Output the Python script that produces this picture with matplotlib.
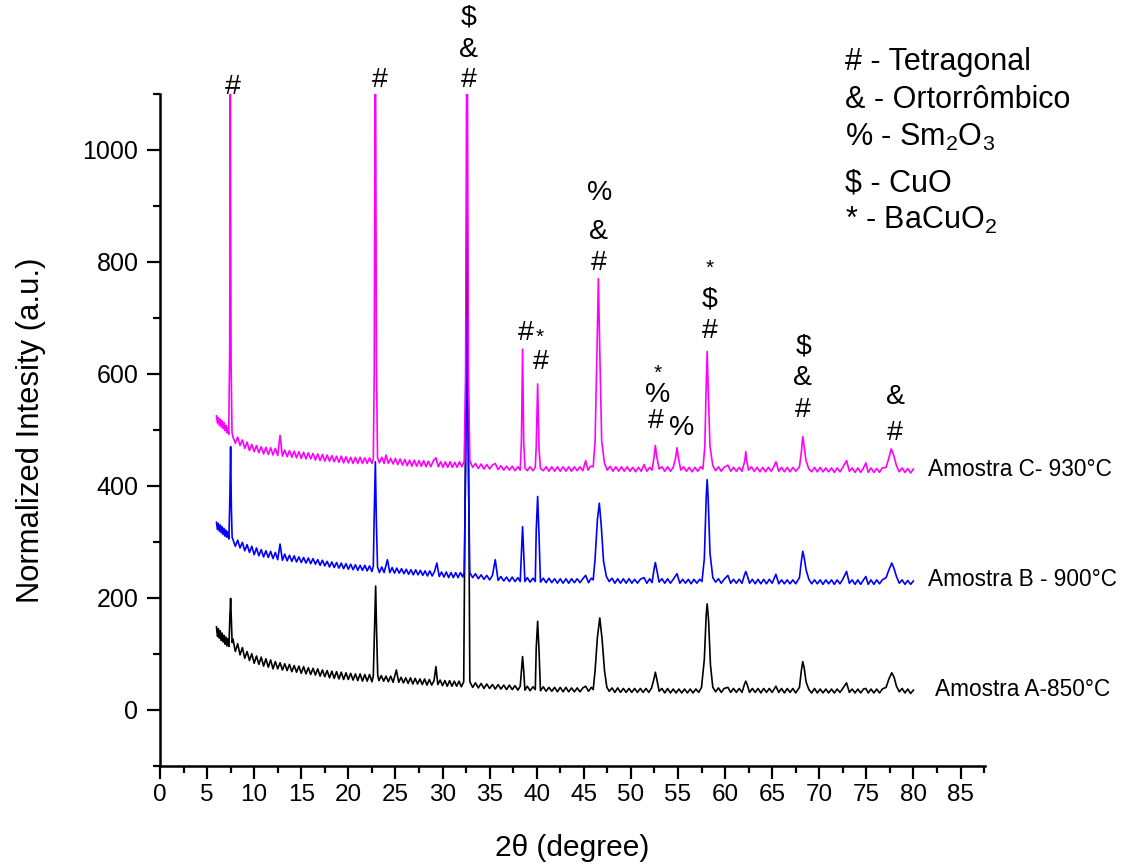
import matplotlib
matplotlib.use("Agg")
import matplotlib.pyplot as plt
from matplotlib.ticker import MultipleLocator

plt.rcParams['font.family'] = ['Liberation Sans', 'DejaVu Sans']
plt.rcParams['mathtext.fontset'] = 'custom'
plt.rcParams['mathtext.rm'] = 'Liberation Sans'
plt.rcParams['mathtext.it'] = 'Liberation Sans'

# ---------------- data ----------------
amostra_c = [(6.0,525),(6.1,512),(6.2,522),(6.3,508),(6.4,519),(6.5,505),(6.6,516),(6.7,502),(6.8,513),(6.9,499),
    (7.0,508),(7.1,495),(7.2,504),(7.3,492),
    (7.4,640),(7.47,1100),(7.55,620),(7.65,495),
    (7.75,487),(8.0,476),(8.25,487),(8.5,472),(8.75,482),(9.0,467),(9.25,478),(9.5,463),(9.75,474),(10.0,461),
    (10.25,472),(10.5,459),(10.75,470),(11.0,457),(11.25,469),(11.5,456),(11.75,468),(12.0,455),(12.25,467),
    (12.5,454),(12.75,490),(13.0,453),(13.25,464),(13.5,452),(13.75,463),(14.0,451),(14.25,462),(14.5,450),
    (14.75,461),(15.0,449),(15.25,460),(15.5,448),(15.75,459),(16.0,448),(16.25,458),(16.5,446),(16.75,457),
    (17.0,445),(17.25,456),(17.5,444),(17.75,455),(18.0,444),(18.25,454),(18.5,443),(18.75,453),(19.0,442),
    (19.25,453),(19.5,441),(19.75,452),(20.0,441),(20.25,451),(20.5,440),(20.75,451),(21.0,440),(21.25,451),
    (21.5,440),(21.75,450),(22.0,440),(22.25,450),(22.5,440),
    (22.65,448),(22.75,600),(22.83,1100),(22.9,1100),(22.98,620),(23.1,450),
    (23.3,441),(23.55,451),(23.8,440),(24.0,455),(24.25,440),(24.5,449),(24.75,439),(25.0,449),(25.25,438),
    (25.5,448),(25.75,437),(26.0,447),(26.25,436),(26.5,446),(26.75,435),(27.0,446),(27.25,435),(27.5,445),
    (27.75,435),(28.0,445),(28.25,434),(28.5,444),(28.75,434),(29.0,444),(29.3,450),(29.55,434),(29.8,443),
    (30.05,433),(30.3,443),(30.55,433),(30.8,443),(31.05,433),(31.3,442),(31.55,433),(31.8,443),(32.05,434),
    (32.3,444),
    (32.45,600),(32.55,1100),(32.65,1100),(32.75,600),(32.9,445),
    (33.2,433),(33.5,440),(33.8,431),(34.1,439),(34.4,430),(34.7,438),(35.0,430),(35.3,437),(35.6,440),(35.9,429),
    (36.2,436),(36.5,428),(36.8,435),(37.1,428),(37.4,435),(37.7,427),(38.0,434),(38.25,428),
    (38.38,480),(38.5,644),(38.62,480),(38.75,432),(39.0,427),(39.3,434),(39.6,427),(39.85,433),
    (39.95,470),(40.1,582),(40.25,465),(40.4,431),
    (40.7,427),(41.0,434),(41.3,426),(41.6,434),(41.9,426),(42.2,434),(42.5,426),(42.8,434),(43.1,426),(43.4,434),
    (43.7,426),(44.0,434),(44.3,427),(44.6,434),(44.9,427),(45.2,445),(45.45,428),(45.7,435),(46.0,434),
    (46.2,480),(46.4,640),(46.55,770),(46.7,640),(46.9,480),(47.2,440),(47.5,428),
    (47.8,435),(48.1,426),(48.4,434),(48.7,426),(49.0,434),(49.3,426),(49.6,434),(49.9,426),(50.2,433),(50.5,425),
    (50.8,433),(51.1,426),(51.4,438),(51.7,426),(52.0,433),(52.25,428),
    (52.45,450),(52.6,472),(52.75,452),(53.0,430),(53.3,434),(53.6,426),(53.9,434),(54.2,426),(54.5,433),
    (54.75,450),(54.9,468),(55.05,450),(55.3,428),(55.6,434),(55.9,426),(56.2,433),(56.5,425),(56.8,433),
    (57.1,426),(57.4,434),(57.65,430),
    (57.85,470),(58.0,580),(58.1,640),(58.2,580),(58.4,470),(58.7,436),(59.0,427),(59.3,434),(59.6,426),
    (59.9,433),(60.3,437),(60.6,426),(60.9,433),(61.2,426),(61.5,433),(61.8,426),
    (62.1,445),(62.2,461),(62.3,445),(62.5,428),(62.8,434),(63.1,426),(63.4,433),(63.7,425),(64.0,433),(64.3,425),
    (64.6,433),(64.9,426),(65.15,433),(65.4,443),(65.7,426),(66.0,433),(66.3,425),(66.6,433),(66.9,425),
    (67.2,433),(67.5,426),(67.9,434),
    (68.1,460),(68.25,488),(68.4,470),(68.6,445),(68.9,430),(69.2,425),(69.5,433),(69.8,425),(70.1,433),
    (70.4,425),(70.7,432),(71.0,425),(71.3,432),(71.6,424),(71.9,432),(72.2,425),(72.5,433),(72.9,445),(73.2,426),
    (73.5,432),(73.8,424),(74.1,432),(74.4,424),(74.7,432),(74.95,441),(75.2,424),(75.5,432),(75.8,424),
    (76.1,431),(76.4,424),(76.7,432),(77.1,433),
    (77.4,450),(77.65,466),(77.9,455),(78.2,436),(78.5,425),(78.8,432),(79.1,424),(79.4,431),(79.7,423),(80.0,430)]

amostra_b = [(6.0,335),(6.1,322),(6.2,333),(6.3,319),(6.4,330),(6.5,316),(6.6,327),(6.7,313),(6.8,324),(6.9,310),
    (7.0,321),(7.1,308),(7.2,318),(7.32,305),
    (7.42,380),(7.5,470),(7.58,360),(7.66,308),
    (7.75,304),(8.0,292),(8.25,303),(8.5,289),(8.75,299),(9.0,284),(9.25,295),(9.5,281),(9.75,292),(10.0,277),
    (10.25,289),(10.5,275),(10.75,286),(11.0,273),(11.25,284),(11.5,272),(11.75,283),(12.0,270),(12.25,281),
    (12.5,268),(12.75,296),(13.0,267),(13.25,278),(13.5,266),(13.75,276),(14.0,265),(14.25,275),(14.5,264),
    (14.75,273),(15.0,263),(15.25,272),(15.5,262),(15.75,271),(16.0,261),(16.25,270),(16.5,260),(16.75,268),
    (17.0,258),(17.25,267),(17.5,257),(17.75,265),(18.0,255),(18.25,264),(18.5,254),(18.75,263),(19.0,253),
    (19.25,262),(19.5,252),(19.75,261),(20.0,251),(20.25,260),(20.5,250),(20.75,259),(21.0,249),(21.25,258),
    (21.5,249),(21.75,258),(22.0,248),(22.25,257),(22.5,247),
    (22.65,256),(22.75,350),(22.87,443),(22.97,340),(23.1,255),
    (23.3,245),(23.55,255),(23.8,245),(24.15,268),(24.4,245),(24.65,254),(24.9,244),(25.15,253),(25.4,244),
    (25.65,252),(25.9,243),(26.15,251),(26.4,242),(26.65,250),(26.9,241),(27.15,250),(27.4,241),(27.65,249),
    (27.9,240),(28.15,248),(28.4,239),(28.65,248),(28.9,239),(29.15,247),(29.4,262),(29.65,238),(29.9,246),
    (30.15,237),(30.4,246),(30.65,236),(30.9,245),(31.15,236),(31.4,245),(31.65,236),(31.9,245),(32.15,237),
    (32.3,246),
    (32.45,420),(32.6,700),(32.75,420),(32.9,245),
    (33.2,236),(33.5,243),(33.8,234),(34.1,241),(34.4,233),(34.7,240),(35.0,232),(35.3,240),(35.6,268),(35.9,231),
    (36.2,238),(36.5,230),(36.8,237),(37.1,229),(37.4,237),(37.7,229),(38.0,236),(38.25,229),
    (38.38,280),(38.5,327),(38.62,280),(38.75,229),(39.0,236),(39.3,228),(39.6,235),(39.85,229),
    (39.95,320),(40.1,381),(40.25,310),(40.4,228),
    (40.7,235),(41.0,227),(41.3,235),(41.6,227),(41.9,234),(42.2,226),(42.5,234),(42.8,226),(43.1,234),(43.4,226),
    (43.7,234),(44.0,227),(44.3,234),(44.6,227),(44.9,234),(45.2,240),(45.5,227),(45.8,235),(46.0,232),
    (46.2,270),(46.45,340),(46.65,369),(46.85,330),(47.1,265),(47.4,238),(47.7,229),
    (48.0,235),(48.3,226),(48.6,234),(48.9,226),(49.2,234),(49.5,226),(49.8,234),(50.1,226),(50.4,233),(50.7,226),
    (51.0,233),(51.4,236),(51.7,226),(52.0,234),(52.25,227),
    (52.45,250),(52.6,263),(52.75,250),(53.0,228),(53.3,234),(53.6,226),(53.9,234),(54.2,226),(54.5,233),
    (54.9,243),(55.2,226),(55.5,233),(55.8,226),(56.1,233),(56.4,225),(56.7,233),(57.0,226),(57.3,233),(57.55,229),
    (57.8,270),(58.0,380),(58.1,411),(58.2,380),(58.4,280),(58.7,236),(59.0,228),(59.3,234),(59.6,226),
    (59.9,233),(60.3,240),(60.6,226),(60.9,233),(61.2,226),(61.5,233),(61.8,226),
    (62.05,240),(62.2,247),(62.35,240),(62.6,226),(62.9,233),(63.2,225),(63.5,233),(63.8,225),(64.1,233),
    (64.4,225),(64.7,233),(65.0,226),(65.4,242),(65.7,225),(66.0,232),(66.3,225),(66.6,232),(66.9,225),
    (67.2,232),(67.5,225),(67.9,236),
    (68.1,265),(68.25,283),(68.4,272),(68.6,250),(68.9,233),(69.2,225),(69.5,232),(69.8,225),(70.1,232),
    (70.4,224),(70.7,232),(71.0,225),(71.3,232),(71.6,224),(71.9,232),(72.2,225),(72.5,233),(72.9,247),(73.2,226),
    (73.5,232),(73.8,224),(74.1,232),(74.4,224),(74.7,232),(74.95,238),(75.2,224),(75.5,232),(75.8,224),
    (76.1,232),(76.4,225),(76.7,232),(77.1,236),
    (77.4,250),(77.7,262),(77.95,252),(78.2,238),(78.5,226),(78.8,232),(79.1,224),(79.4,231),(79.7,224),(80.0,230)]

amostra_a = [(6.0,148),(6.1,131),(6.2,145),(6.3,128),(6.4,141),(6.5,124),(6.6,137),(6.7,121),(6.8,133),(6.9,117),
    (7.0,130),(7.1,114),(7.2,127),(7.32,113),
    (7.42,165),(7.5,199),(7.58,160),(7.66,120),
    (7.75,126),(8.0,104),(8.25,118),(8.5,98),(8.75,111),(9.0,92),(9.25,104),(9.5,88),(9.75,100),(10.0,83),
    (10.25,96),(10.5,81),(10.75,94),(11.0,78),(11.25,91),(11.5,76),(11.75,89),(12.0,73),(12.25,86),
    (12.5,73),(12.75,84),(13.0,71),(13.25,82),(13.5,70),(13.75,81),(14.0,68),(14.25,79),(14.5,67),(14.75,78),
    (15.0,65),(15.25,77),(15.5,64),(15.75,75),(16.0,63),(16.25,74),(16.5,62),(16.75,73),(17.0,60),(17.25,71),
    (17.5,59),(17.75,70),(18.0,57),(18.25,69),(18.5,56),(18.75,68),(19.0,55),(19.25,67),(19.5,54),(19.75,66),
    (20.0,54),(20.25,65),(20.5,53),(20.75,64),(21.0,52),(21.25,64),(21.5,51),(21.75,63),(22.0,51),(22.25,63),
    (22.5,50),
    (22.65,60),(22.77,140),(22.9,221),(23.0,140),(23.12,62),
    (23.25,52),(23.5,61),(23.75,51),(24.0,60),(24.25,50),(24.5,60),(24.75,49),(25.1,71),(25.35,49),(25.6,58),
    (25.85,48),(26.1,57),(26.35,47),(26.6,57),(26.85,46),(27.1,56),(27.35,46),(27.6,55),(27.85,45),(28.1,55),
    (28.35,44),(28.6,54),(28.85,44),(29.1,52),(29.3,77),(29.5,45),(29.75,53),(30.0,43),(30.25,52),(30.5,42),
    (30.75,52),(31.0,42),(31.25,51),(31.5,42),(31.75,51),(32.0,41),(32.25,50),
    (32.45,500),(32.6,950),(32.75,500),(32.9,50),
    (33.2,40),(33.5,48),(33.8,39),(34.1,47),(34.4,38),(34.7,46),(35.0,38),(35.3,45),(35.6,37),(35.9,45),(36.2,37),
    (36.5,44),(36.8,36),(37.1,44),(37.4,36),(37.7,43),(38.0,35),(38.25,42),
    (38.38,70),(38.5,95),(38.62,70),(38.75,35),(39.0,42),(39.3,34),(39.6,41),(39.85,36),
    (39.95,110),(40.1,158),(40.25,105),(40.4,34),
    (40.7,41),(41.0,33),(41.3,40),(41.6,33),(41.9,40),(42.2,32),(42.5,40),(42.8,32),(43.1,40),(43.4,32),(43.7,39),
    (44.0,32),(44.3,39),(44.6,32),(44.9,39),(45.2,42),(45.5,33),(45.8,40),(46.0,36),
    (46.2,70),(46.45,130),(46.7,164),(46.95,125),(47.2,70),(47.45,40),(47.7,33),
    (48.0,39),(48.3,31),(48.6,39),(48.9,31),(49.2,38),(49.5,31),(49.8,38),(50.1,31),(50.4,38),(50.7,31),(51.0,38),
    (51.3,31),(51.6,38),(51.9,31),(52.2,39),
    (52.45,55),(52.6,67),(52.75,55),(53.0,33),(53.3,38),(53.6,30),(53.9,38),(54.2,30),(54.5,37),(54.8,30),
    (55.1,37),(55.4,30),(55.7,37),(56.0,30),(56.3,37),(56.6,30),(56.9,37),(57.2,31),(57.5,40),
    (57.8,90),(58.0,170),(58.1,189),(58.25,160),(58.45,80),(58.7,40),(59.0,32),(59.3,39),(59.6,31),(59.9,38),
    (60.3,40),(60.6,31),(60.9,38),(61.2,31),(61.5,38),(61.8,31),
    (62.05,45),(62.2,51),(62.35,45),(62.6,31),(62.9,38),(63.2,31),(63.5,38),(63.8,30),(64.1,38),(64.4,31),
    (64.7,38),(65.0,31),(65.4,42),(65.7,31),(66.0,38),(66.3,30),(66.6,38),(66.9,31),(67.2,38),(67.5,30),(67.9,40),
    (68.1,70),(68.25,86),(68.4,75),(68.6,50),(68.9,36),(69.2,30),(69.5,38),(69.8,30),(70.1,37),(70.4,30),
    (70.7,37),(71.0,30),(71.3,37),(71.6,30),(71.9,37),(72.2,31),(72.5,38),(72.9,48),(73.2,31),(73.5,37),(73.8,30),
    (74.1,37),(74.4,30),(74.7,37),(74.95,38),(75.2,30),(75.5,37),(75.8,30),(76.1,37),(76.4,30),(76.7,37),
    (77.1,40),
    (77.4,55),(77.7,66),(77.95,58),(78.2,42),(78.5,32),(78.8,38),(79.1,30),(79.4,37),(79.7,29),(80.0,35)]

series_names = ["Amostra A-850°C", "Amostra B - 900°C", "Amostra C- 930°C"]
series_colors = ["black", "#0000ff", "#ff00ff"]
series_label_x = [82.3, 81.5, 81.6]
series_label_y = [36, 232, 429]

# peak phase markers
ann_x = [7.75, 23.3, 32.8, 32.8, 32.8, 38.8, 40.3, 40.4, 46.7, 46.6, 46.6,
         52.8, 52.8, 52.7, 55.4, 58.4, 58.4, 58.35, 68.3, 68.2, 68.3, 78.1, 78.0]
ann_y = [1112, 1125, 1236, 1179, 1125, 673, 666, 621, 923, 854, 798,
         601, 562, 515, 503, 789, 732, 676, 649, 592, 536, 559, 495]
ann_s = ["#", "#", "$", "&", "#", "#", "*", "#", "%", "&", "#",
         "*", "%", "#", "%", "*", "$", "#", "$", "&", "#", "&", "#"]

legend_lines = ["# - Tetragonal", "& - Ortorrômbico", r"% - Sm$_2$O$_3$", "$ - CuO", r"* - BaCuO$_2$"]
legend_baseline_px = [70, 108, 146, 192, 229]

# ---------------- figure ----------------
fig = plt.figure(figsize=(11.46, 8.66), dpi=100)
ax = fig.add_axes([0.1396, 0.1158, 0.7199, 0.7757])

for pts, col, name, lx, ly in zip([amostra_a, amostra_b, amostra_c], series_colors,
                                  series_names, series_label_x, series_label_y):
    xs = [p[0] for p in pts]
    ys = [p[1] for p in pts]
    ax.plot(xs, ys, color=col, lw=1.2)
    ax.text(lx, ly, name, fontsize=16.3, ha='left', va='center', clip_on=False)

for x, y, s in zip(ann_x, ann_y, ann_s):
    fs = 15 if s == "*" else 20.5
    txt = s.replace("$", r"\$")
    ax.text(x, y, txt, fontsize=fs, ha='center', va='center', clip_on=False)

for line, by in zip(legend_lines, legend_baseline_px):
    if line.startswith("$"):
        line = r"\$" + line[1:]
    ax.text(845 / 1146, 1 - by / 866, line, transform=fig.transFigure,
            fontsize=22, ha='left', va='baseline')

ax.set_xlim(0, 87.6)
ax.set_ylim(-100, 1100)
ax.spines['top'].set_visible(False)
ax.spines['right'].set_visible(False)
for s in ['left', 'bottom']:
    ax.spines[s].set_linewidth(1.8)

ax.xaxis.set_major_locator(MultipleLocator(5))
ax.xaxis.set_minor_locator(MultipleLocator(2.5))
ax.yaxis.set_major_locator(MultipleLocator(200))
ax.yaxis.set_minor_locator(MultipleLocator(100))
ax.tick_params(which='major', direction='out', length=9.5, width=1.6, labelsize=17.5, pad=4)
ax.tick_params(which='minor', direction='out', length=5, width=1.6)
ax.tick_params(axis='y', which='major', labelsize=18, pad=6)

ax.set_xlabel("2θ (degree)", fontsize=21.5, labelpad=20)
ax.set_ylabel("Normalized Intesity (a.u.)", fontsize=22.3, labelpad=26)

fig.savefig("out.png", dpi=100)
